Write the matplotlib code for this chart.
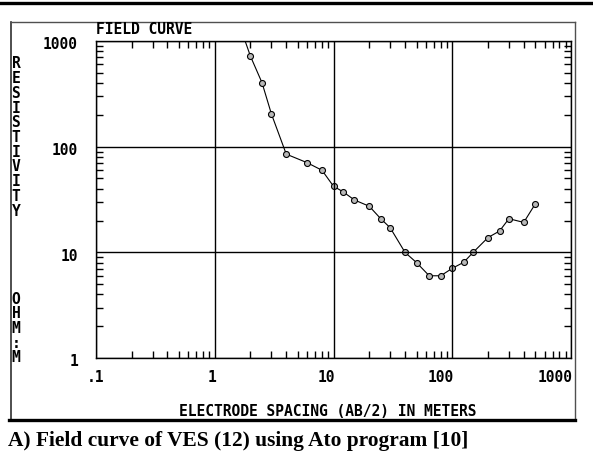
import numpy as np
import matplotlib
matplotlib.use('Agg')
from matplotlib import pyplot as plt
from matplotlib.lines import Line2D
from matplotlib.ticker import LogLocator, NullFormatter, FixedLocator
import matplotlib.transforms as mtransforms

# field curve data (AB/2 in m, apparent resistivity in ohm-m)
spacing = [1.5, 2.0, 2.5, 3.0, 4.0, 6.0, 8.0, 10, 12, 15, 20, 25, 30, 40, 50,
           64, 80, 100, 125, 150, 200, 250, 300, 400, 500]
resistivity = [1800, 716, 403, 204, 85, 70.5, 59.8, 42.2, 37.5, 31.3, 27.3, 20.8,
               17.1, 10.0, 8.0, 6.0, 6.0, 7.06, 8.05, 10.0, 13.8, 15.9, 20.8, 19.2, 28.7]

x_ticks = [0.1, 1, 10, 100, 1000]
x_labels = ['.1', '1', '10', '100', '1000']
y_ticks = [1, 10, 100, 1000]
y_labels = ['1', '10', '100', '1000']

W, H = 593, 477
mono = 'DejaVu Sans Mono'
fs = 10.5


def fx(px):
    return px / W


def fy(py):
    return 1 - py / H


fig = plt.figure(figsize=(W / 100, H / 100), dpi=100)
fig.patch.set_facecolor('white')

# plot box
ax = fig.add_axes([fx(96), fy(359), fx(571) - fx(96), fy(42) - fy(359)])
ax.set_xscale('log')
ax.set_yscale('log')
ax.set_xlim(0.1, 1000)
ax.set_ylim(1, 1000)

ax.plot(spacing, resistivity, color='black', lw=0.8, marker='o', ms=4.3,
        mfc='#b8b8b8', mec='black', mew=0.8, clip_on=True)

for v in x_ticks:
    ax.axvline(v, color='black', lw=1.0)
for v in y_ticks:
    ax.axhline(v, color='black', lw=1.0)

for s in ax.spines.values():
    s.set_color('black')
    s.set_linewidth(1.0)

ax.xaxis.set_major_locator(FixedLocator([]))
ax.yaxis.set_major_locator(FixedLocator([]))
ax.xaxis.set_minor_locator(LogLocator(base=10, subs=np.arange(2, 10)))
ax.yaxis.set_minor_locator(LogLocator(base=10, subs=np.arange(2, 10)))
ax.xaxis.set_minor_formatter(NullFormatter())
ax.yaxis.set_minor_formatter(NullFormatter())
ax.tick_params(which='minor', direction='in', length=5, width=1.0,
               top=True, bottom=True, left=True, right=True, color='black')

# tick labels, drawn as text like the old plotting program
off_x = mtransforms.offset_copy(ax.get_xaxis_transform(), fig=fig, x=2, y=-19, units='dots')
for v, lab in zip(x_ticks, x_labels):
    dx = 6 if lab == '.1' else 0
    ax.text(v, 0, lab, transform=off_x + mtransforms.Affine2D().translate(dx, 0),
            ha='right', va='center', fontsize=fs, fontweight='bold', family=mono)
off_y = mtransforms.offset_copy(ax.get_yaxis_transform(), fig=fig, x=-18, y=-3, units='dots')
for v, lab in zip(y_ticks, y_labels):
    ax.text(0, v, lab, transform=off_y, ha='right', va='center',
            fontsize=fs, fontweight='bold', family=mono)

fig.text(fx(96), fy(29), 'FIELD CURVE', ha='left', va='center',
         fontsize=fs, fontweight='bold', family=mono)
fig.text(fx(328), fy(411), 'ELECTRODE SPACING (AB/2) IN METERS', ha='center', va='center',
         fontsize=fs, fontweight='bold', family=mono)

# stacked y label
ylab = 'RESISTIVITY     OHM:M'
for i, ch in enumerate(ylab):
    if ch != ' ':
        fig.text(fx(16), fy(64 + i * 14.7), ch, ha='center', va='center',
                 fontsize=fs, fontweight='bold', family=mono)

# outer frame and rules
fig.add_artist(Line2D([fx(10.5), fx(10.5)], [fy(23), fy(421)], color='#303030', lw=1.2))
fig.add_artist(Line2D([fx(574.5), fx(574.5)], [fy(23), fy(421)], color='#505050', lw=1.0))
fig.add_artist(Line2D([fx(10.5), fx(574.5)], [fy(23), fy(23)], color='#505050', lw=1.0))
fig.add_artist(Line2D([fx(9), fx(575)], [fy(421), fy(421)], color='black', lw=2.4))
fig.add_artist(Line2D([0, 1], [fy(3.5), fy(3.5)], color='black', lw=2.4))

fig.text(fx(8), fy(441), 'A) Field curve of VES (12) using Ato program [10]',
         ha='left', va='center', fontsize=15.4, fontweight='bold', family='Liberation Serif')

fig.savefig('out.png', dpi=100)
